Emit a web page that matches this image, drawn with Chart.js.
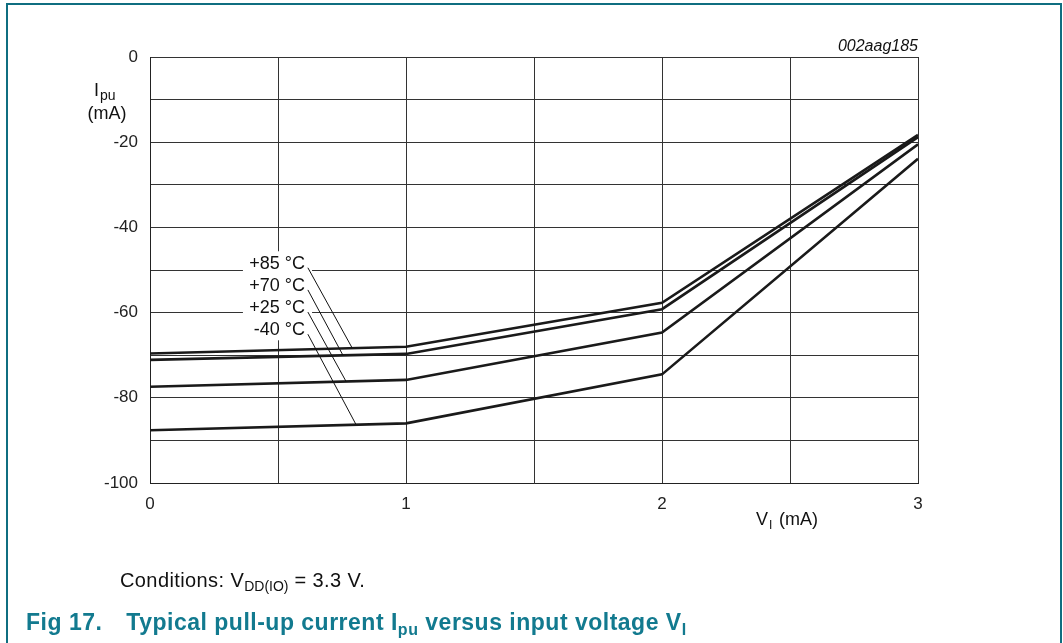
<!DOCTYPE html>
<html>
<head>
<meta charset="utf-8">
<script src="https://cdn.jsdelivr.net/npm/chart.js@4.4.1/dist/chart.umd.min.js"></script>
<style>
  html, body { margin: 0; padding: 0; background: #fff; }
  #wrap { position: relative; width: 1063px; height: 643px; overflow: hidden; font-family: "Liberation Sans", Arial, sans-serif; }
  #frame { position: absolute; left: 6px; top: 3px; width: 1056px; height: 700px; border: 2px solid #0f6e80; box-sizing: border-box; }
  #cvs { position: absolute; left: 0; top: 0; }
  #cond { position: absolute; left: 120px; top: 569px; font-size: 20px; letter-spacing: 0.4px; line-height: 22px; color: #111; }
  #cond sub { font-size: 14px; vertical-align: -4px; line-height: 0; letter-spacing: 0; }
  #title { position: absolute; left: 26px; top: 609px; font-size: 23px; letter-spacing: 0.5px; line-height: 26px; font-weight: bold; color: #127a8f; white-space: nowrap; }
  #title sub { font-size: 16px; vertical-align: -5px; line-height: 0; }
  #title .gap { display: inline-block; width: 24px; }
</style>
</head>
<body>
<div id="wrap">
  <div id="frame"></div>
  <canvas id="cvs" width="1063" height="643"></canvas>
  <div id="cond">Conditions: V<sub>DD(IO)</sub> = 3.3 V.</div>
  <div id="title">Fig 17.<span class="gap"></span>Typical pull-up current I<sub>pu</sub> versus input voltage V<sub>I</sub></div>
</div>
<script>
// input voltage (x) and pull-up current (y, mA) per temperature
var voltages = [0, 1, 2, 3];
var ipu85 = [-69.6, -68.0, -57.7, -18.3];
var ipu70 = [-71.1, -69.7, -59.2, -18.8];
var ipu25 = [-77.4, -75.8, -64.7, -20.5];
var ipuM40 = [-87.6, -86.0, -74.5, -23.9];
var tempLabels = ["+85 °C", "+70 °C", "+25 °C", "-40 °C"];
var series = [ipu85, ipu70, ipu25, ipuM40];
// where each leader line touches its curve (x in volts)
var leaderX = [0.79, 0.754, 0.766, 0.805];

function pts(arr) {
	let out = [];
	for (let i in voltages) out.push({x: voltages[i], y: arr[i]});
	return out;
}

function valueAt(arr, x) {
	for (let i = 0; i < voltages.length - 1; i++) {
		if (x >= voltages[i] && x <= voltages[i + 1]) {
			let t = (x - voltages[i]) / (voltages[i + 1] - voltages[i]);
			return arr[i] + t * (arr[i + 1] - arr[i]);
		}
	}
	return arr[arr.length - 1];
}

var FONT = '"Liberation Sans", Arial, sans-serif';

var labelPlugin = {
	id: "labels",
	beforeDatasetsDraw(chart) {
		let ctx = chart.ctx, xs = chart.scales.x, ys = chart.scales.y;
		// white patch behind the temperature labels
		ctx.save();
		ctx.fillStyle = "#fff";
		let x1 = xs.getPixelForValue(0.363), x2 = xs.getPixelForValue(0.633);
		let y1 = ys.getPixelForValue(-45.6), y2 = ys.getPixelForValue(-66.5);
		ctx.fillRect(x1, y1, x2 - x1, y2 - y1);
		ctx.restore();
	},
	afterDatasetsDraw(chart) {
		let ctx = chart.ctx, xs = chart.scales.x, ys = chart.scales.y;
		ctx.save();
		ctx.fillStyle = "#111";
		ctx.font = "18px " + FONT;
		ctx.textAlign = "right";
		ctx.textBaseline = "middle";
		let textX = xs.getPixelForValue(0.605);
		for (let i = 0; i < tempLabels.length; i++) {
			let ty = ys.getPixelForValue(-48.3 - i * 5.2);
			ctx.fillText(tempLabels[i], textX, ty + 1);
			let ex = xs.getPixelForValue(leaderX[i]);
			let ey = ys.getPixelForValue(valueAt(series[i], leaderX[i]));
			ctx.beginPath();
			ctx.strokeStyle = "#111";
			ctx.lineWidth = 1;
			ctx.moveTo(textX + 3, ty + 5);
			ctx.lineTo(ex, ey);
			ctx.stroke();
		}
		// axis titles
		let ca = chart.chartArea;
		ctx.textAlign = "left";
		ctx.textBaseline = "alphabetic";
		ctx.font = "18px " + FONT;
		ctx.fillText("I", 94, 96);
		ctx.font = "14px " + FONT;
		ctx.fillText("pu", 100, 100);
		ctx.font = "18px " + FONT;
		ctx.textAlign = "center";
		ctx.fillText("(mA)", 107, 119);
		ctx.textAlign = "left";
		ctx.fillText("V", 756, 525);
		ctx.font = "12px " + FONT;
		ctx.fillText("I", 769, 529);
		ctx.font = "18px " + FONT;
		ctx.fillText("(mA)", 779, 525);
		ctx.font = "italic 16px " + FONT;
		ctx.textAlign = "right";
		ctx.fillText("002aag185", ca.right, 51);
		ctx.restore();
	}
};

var config = {
	type: "line",
	data: {
		datasets: []
	},
	options: {
		responsive: false,
		animation: false,
		devicePixelRatio: 1,
		layout: { padding: { left: 0, top: 57, right: 145, bottom: 0 } },
		plugins: { legend: false, tooltip: false },
		elements: { point: { radius: 0 }, line: { tension: 0 } },
		scales: {
			x: {
				type: "linear",
				min: 0,
				max: 3,
				afterFit: function(s) { s.height = 160; },
				border: { color: "#222", width: 1 },
				grid: { color: "#333", lineWidth: 1, drawTicks: false },
				ticks: {
					stepSize: 0.5,
					padding: 11,
					color: "#222",
					font: { family: FONT, size: 17 },
					callback: function(v) { return Number.isInteger(v) ? v : ""; }
				}
			},
			y: {
				min: -100,
				max: 0,
				afterFit: function(s) { s.width = 150; },
				border: { color: "#222", width: 1 },
				grid: { color: "#333", lineWidth: 1, drawTicks: false },
				ticks: {
					stepSize: 10,
					padding: 12,
					color: "#222",
					font: { family: FONT, size: 17 },
					callback: function(v) { return v % 20 === 0 ? v : ""; }
				}
			}
		}
	},
	plugins: [labelPlugin]
};

for (let s of series) {
	config.data.datasets.push({
		data: pts(s),
		fill: false,
		borderColor: "#1a1a1a",
		borderWidth: 2.6
	});
}

var results = new Chart(document.getElementById("cvs"), config);
</script>
</body>
</html>
